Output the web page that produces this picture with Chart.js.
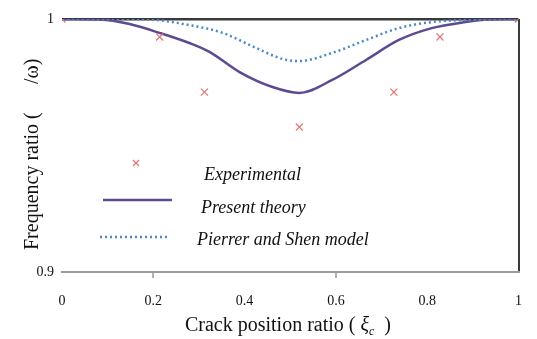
<!DOCTYPE html>
<html>
<head>
<meta charset="utf-8">
<script src="https://cdn.jsdelivr.net/npm/chart.js@4.4.1/dist/chart.umd.min.js"></script>
<style>
  html, body { margin: 0; padding: 0; background: #fff; }
  #wrap { width: 537px; height: 339px; }
</style>
</head>
<body>
<div id="wrap"><canvas id="myChart" width="537" height="339"></canvas></div>
<script>
// valores
const xTicks = [0, 0.2, 0.4, 0.6, 0.8, 1];
const xTickLabels = ["0", "0.2", "0.4", "0.6", "0.8", "1"];
const yTicks = [0.9, 1];
const yTickLabels = ["0.9", "1"];

const expX = [0, 0.214, 0.312, 0.52, 0.727, 0.828, 1];
const expY = [1, 0.9929, 0.9711, 0.9573, 0.9711, 0.9929, 1];

const teoX = [0, 0.083, 0.148, 0.214, 0.279, 0.323, 0.389, 0.461, 0.52, 0.592, 0.666, 0.738, 0.81, 0.884, 0.934, 1];
const teoY = [1, 0.9998, 0.998, 0.9945, 0.9905, 0.987, 0.979, 0.9731, 0.9708, 0.9759, 0.9838, 0.9917, 0.9964, 0.9988, 0.9998, 1];

const psX = [0, 0.127, 0.192, 0.279, 0.352, 0.426, 0.483, 0.52, 0.592, 0.666, 0.738, 0.81, 0.884, 1];
const psY = [1, 1, 0.9998, 0.9976, 0.9945, 0.9885, 0.9842, 0.9834, 0.9866, 0.9917, 0.9964, 0.9988, 0.9996, 1];

const nombres = ["Experimental", "Present theory", "Pierrer and Shen model"];

const colorExp = "#e07272";
const colorTeo = "#5e4a92";
const colorPs = "#4a88cc";
const serif = "'Liberation Serif', 'DejaVu Serif', serif";

const pares = (xs, ys) => xs.map((x, i) => ({ x: x, y: ys[i] }));

// leyenda y titulos dibujados a mano
const extras = {
  id: "extras",
  afterDraw(chart) {
    const c = chart.ctx;
    c.save();
    c.fillStyle = "#111";
    c.textBaseline = "middle";

    // leyenda
    c.strokeStyle = colorExp;
    c.lineWidth = 1.2;
    c.beginPath();
    c.moveTo(133, 160); c.lineTo(139, 166);
    c.moveTo(139, 160); c.lineTo(133, 166);
    c.stroke();

    c.strokeStyle = colorTeo;
    c.lineWidth = 2.5;
    c.beginPath();
    c.moveTo(103, 200); c.lineTo(172, 200);
    c.stroke();

    c.strokeStyle = colorPs;
    c.lineWidth = 2.5;
    c.setLineDash([2, 3]);
    c.beginPath();
    c.moveTo(100, 237); c.lineTo(168, 237);
    c.stroke();
    c.setLineDash([]);

    c.font = "italic 18px " + serif;
    c.textAlign = "left";
    c.fillText(nombres[0], 204, 175);
    c.fillText(nombres[1], 201, 208);
    c.fillText(nombres[2], 197, 240);

    // titulo eje y
    c.save();
    c.translate(33, 250);
    c.rotate(-Math.PI / 2);
    c.font = "20px " + serif;
    c.textAlign = "left";
    c.fillText("Frequency ratio (", 0, 0);
    c.fillText("/ω)", 166, 0);
    c.restore();

    // titulo eje x
    c.font = "20px " + serif;
    const a = "Crack position ratio ( ";
    const wa = c.measureText(a).width;
    c.font = "italic 20px " + serif;
    const wxi = c.measureText("ξ").width;
    c.font = "italic 12px " + serif;
    const wc = c.measureText("c").width;
    c.font = "20px " + serif;
    const b = "  )";
    const wb = c.measureText(b).width;
    let x0 = 288 - (wa + wxi + wc + wb) / 2;
    const yb = 326;
    c.textAlign = "left";
    c.fillText(a, x0, yb);
    x0 += wa;
    c.font = "italic 20px " + serif;
    c.fillText("ξ", x0, yb);
    x0 += wxi;
    c.font = "italic 12px " + serif;
    c.fillText("c", x0, yb + 6);
    x0 += wc;
    c.font = "20px " + serif;
    c.fillText(b, x0, yb);
    c.restore();
  },
};

const ctx = document.getElementById("myChart");

new Chart(ctx, {
  type: "scatter",
  data: {
    datasets: [
      {
        label: nombres[0],
        data: pares(expX, expY),
        pointStyle: "crossRot",
        pointRadius: 5,
        pointBorderWidth: 1.2,
        borderColor: colorExp,
        backgroundColor: colorExp,
        showLine: false,
        order: 0,
      },
      {
        label: nombres[1],
        data: pares(teoX, teoY),
        showLine: true,
        borderColor: colorTeo,
        borderWidth: 2.5,
        pointRadius: 0,
        cubicInterpolationMode: "monotone",
        order: 2,
      },
      {
        label: nombres[2],
        data: pares(psX, psY),
        showLine: true,
        borderColor: colorPs,
        borderWidth: 2.5,
        borderDash: [2, 3],
        pointRadius: 0,
        cubicInterpolationMode: "monotone",
        order: 1,
      },
    ],
  },
  options: {
    responsive: false,
    animation: false,
    layout: { padding: { top: 19, right: 17, left: 0, bottom: 0 } },
    plugins: {
      legend: { display: false },
      tooltip: { enabled: false },
    },
    scales: {
      x: {
        type: "linear",
        min: 0,
        max: 1,
        afterBuildTicks: (axis) => {
          axis.ticks = xTicks.map((v) => ({ value: v }));
        },
        afterFit: (axis) => {
          axis.height = 67;
        },
        ticks: {
          callback: (v) => xTickLabels[xTicks.indexOf(v)],
          color: "#111",
          font: { family: serif, size: 14 },
          padding: 15,
          maxRotation: 0,
        },
        grid: {
          drawOnChartArea: true,
          color: (c) => (c.tick && c.tick.value === 1 ? "#3a3a3a" : "transparent"),
          lineWidth: 2,
          tickColor: (c) =>
            c.tick && (c.tick.value === 0.2 || c.tick.value === 0.6) ? "#999" : "transparent",
          tickLength: 6,
          tickWidth: 1.5,
        },
        border: { display: true, color: "#9a9a9a", width: 2 },
      },
      y: {
        min: 0.9,
        max: 1,
        afterBuildTicks: (axis) => {
          axis.ticks = yTicks.map((v) => ({ value: v }));
        },
        afterFit: (axis) => {
          axis.width = 62;
        },
        ticks: {
          callback: (v) => yTickLabels[yTicks.indexOf(v)],
          color: "#111",
          font: { family: serif, size: 14 },
          padding: 8,
        },
        grid: {
          color: (c) => (c.tick && c.tick.value === 1 ? "#3a3a3a" : "transparent"),
          lineWidth: 2.5,
          drawTicks: false,
        },
        border: { display: false },
      },
    },
  },
  plugins: [extras],
});
</script>
</body>
</html>
